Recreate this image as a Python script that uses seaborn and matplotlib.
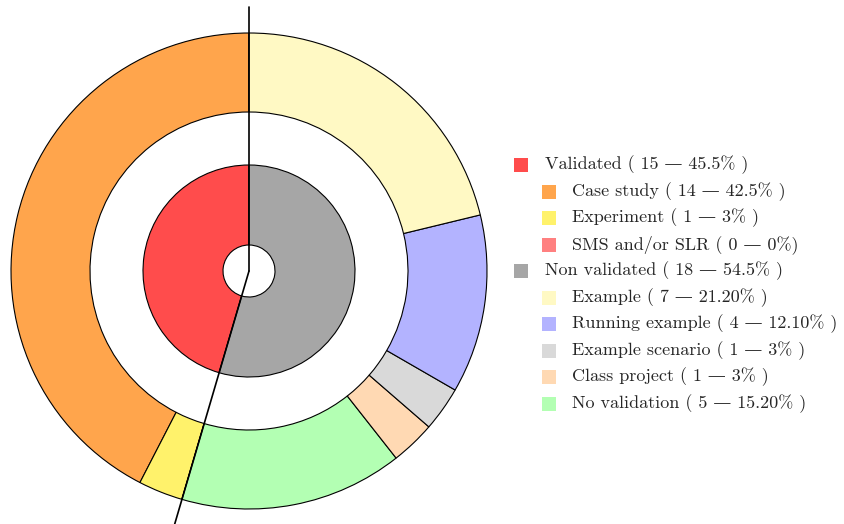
import numpy as np
import matplotlib.pyplot as plt
import seaborn as sns

sns.set_style("white")
plt.rcParams['font.family'] = ['cmr10', 'DejaVu Serif']

groups = ["Validated", "Non validated"]
group_counts = [15, 18]
group_pcts = ["45.5%", "54.5%"]
group_colors = ["#ff4c4c", "#a6a6a6"]

sub_labels = ["Case study", "Experiment", "SMS and/or SLR",
              "Example", "Running example", "Example scenario", "Class project", "No validation"]
sub_counts = [14, 1, 0, 7, 4, 1, 1, 5]
sub_pcts = ["42.5%", "3%", "0%", "21.20%", "12.10%", "3%", "3%", "15.20%"]
sub_colors = ["#ffa54c", "#fff26b", "#ff8080",
              "#fff9c4", "#b3b3ff", "#d9d9d9", "#ffd9b3", "#b3ffb3"]
sub_group = [0, 0, 0, 1, 1, 1, 1, 1]

fig = plt.figure(figsize=(8.44, 5.24), dpi=100)
ax = fig.add_axes([0, 0, 1, 1])

cx, cy = 249, 253
wedge = dict(edgecolor="black", linewidth=0.8)

# outer ring: validated subtypes counter-clockwise from top, non validated go the other way round
outer_order = [0, 1, 2, 7, 6, 5, 4, 3]
ax.pie([sub_counts[i] for i in outer_order], colors=[sub_colors[i] for i in outer_order],
       startangle=90, counterclock=True, radius=238, center=(cx, cy),
       wedgeprops=dict(width=79, **wedge), frame=True)
ax.pie(group_counts, colors=group_colors, startangle=90, counterclock=True,
       radius=106, center=(cx, cy), wedgeprops=dict(width=80, **wedge), frame=True)
ax.set_xlim(0, 844)
ax.set_ylim(0, 524)
ax.set_aspect("equal")
ax.axis("off")

# separator lines between the two groups
frac = group_counts[0] / sum(group_counts)
r_line = 264
for ang in [90, 90 + 360 * frac]:
    a = np.deg2rad(ang)
    ax.plot([cx, cx + r_line * np.cos(a)], [cy, cy + r_line * np.sin(a)], color="black", lw=1.2)

# legend
y = 359
step = 26.5
fs = 13
for g in range(2):
    ax.scatter(521, y, marker="s", s=100, color=group_colors[g], linewidths=0)
    ax.text(545, y, f"{groups[g]} ( {group_counts[g]} — {group_pcts[g]} )",
            va="center", ha="left", fontsize=fs)
    y -= step
    for i in range(len(sub_labels)):
        if sub_group[i] != g:
            continue
        ax.scatter(549, y, marker="s", s=100, color=sub_colors[i], linewidths=0)
        close = ")" if sub_labels[i] == "SMS and/or SLR" else " )"
        ax.text(572, y, f"{sub_labels[i]} ( {sub_counts[i]} — {sub_pcts[i]}{close}",
                va="center", ha="left", fontsize=fs)
        y -= step

fig.savefig("out.png", dpi=100)
